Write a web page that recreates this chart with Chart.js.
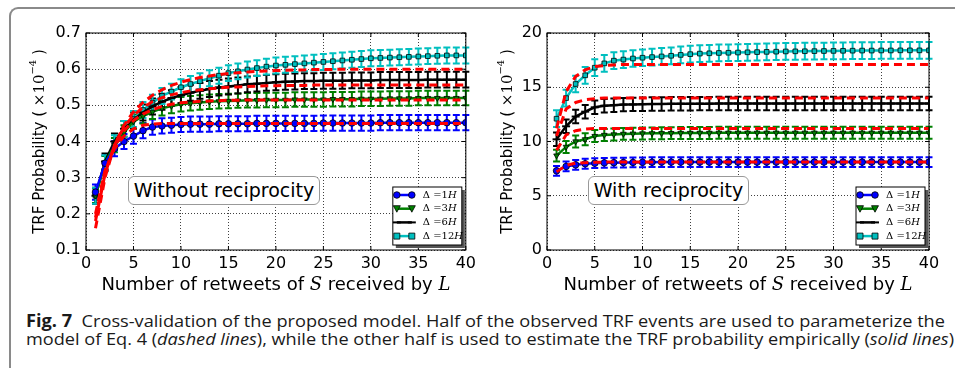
<!DOCTYPE html>
<html>
<head>
<meta charset="utf-8">
<script src="https://cdn.jsdelivr.net/npm/chart.js@4.4.1/dist/chart.umd.min.js"></script>
<style>
    body { margin: 0; width: 955px; height: 368px; overflow: hidden; background: #fff; position: relative; }
    #frame { position: absolute; left: 9px; top: 7px; width: 980px; height: 400px; border-top: 2px solid #8a8a8a; border-left: 2px solid #8a8a8a; border-top-left-radius: 9px; }
    .panel { position: absolute; top: 0; height: 300px; }
    #left { left: 0; width: 480px; }
    #right { left: 480px; width: 475px; }
    .tag { position: absolute; border: 1px solid #999; border-radius: 6px; background: #fff; font: 19px 'DejaVu Sans'; line-height: 27px; text-align: center; color: #000; white-space: nowrap; }
    .cap { position: absolute; left: 26px; font-family: 'Open Sans'; font-size: 17px; line-height: 18px; white-space: nowrap; transform-origin: 0 0; color: #1a1a1a; }
</style>
</head>
<body>
<div id="frame"></div>
<div class="panel" id="left"><canvas id="chartL" width="480" height="300"></canvas></div>
<div class="panel" id="right"><canvas id="chartR" width="475" height="300"></canvas></div>
<div class="tag" style="left:128px;top:176px;width:190px;height:27px;">Without reciprocity</div>
<div class="tag" style="left:588px;top:176px;width:159px;height:27px;">With reciprocity</div>
<div class="cap" id="cap1" data-w="919" style="top:312px;"><b>Fig. 7</b>&nbsp; Cross-validation of the proposed model. Half of the observed TRF events are used to parameterize the</div>
<div class="cap" id="cap2" data-w="928" style="top:330px;">model of Eq. 4 (<i>dashed lines</i>), while the other half is used to estimate the TRF probability empirically (<i>solid lines</i>)</div>
<script>
// retweet counts on the x axis
const xs = [1, 2, 3, 4, 5, 6, 7, 8, 9, 10, 11, 12, 13, 14, 15, 16, 17, 18, 19, 20,
    21, 22, 23, 24, 25, 26, 27, 28, 29, 30, 31, 32, 33, 34, 35, 36, 37, 38, 39, 40];

const labels = ['1', '3', '6', '12'];

// without reciprocity, empirical (x1e-4)
const blueL = [0.26, 0.34, 0.38, 0.40, 0.415, 0.43, 0.44, 0.443, 0.445, 0.447, 0.448, 0.448, 0.448, 0.449, 0.449, 0.449, 0.449, 0.45, 0.45, 0.45,
    0.45, 0.45, 0.45, 0.45, 0.451, 0.451, 0.451, 0.451, 0.451, 0.451, 0.452, 0.452, 0.452, 0.452, 0.452, 0.452, 0.452, 0.452, 0.452, 0.452];
const greenL = [0.25, 0.34, 0.39, 0.425, 0.455, 0.47, 0.482, 0.492, 0.498, 0.503, 0.506, 0.508, 0.51, 0.511, 0.512, 0.513, 0.514, 0.514, 0.515, 0.515,
    0.515, 0.516, 0.516, 0.516, 0.516, 0.517, 0.517, 0.517, 0.518, 0.518, 0.518, 0.519, 0.519, 0.519, 0.52, 0.52, 0.52, 0.52, 0.52, 0.52];
const blackL = [0.25, 0.345, 0.40, 0.435, 0.46, 0.48, 0.497, 0.51, 0.52, 0.528, 0.535, 0.54, 0.545, 0.549, 0.552, 0.555, 0.558, 0.56, 0.562, 0.564,
    0.565, 0.566, 0.567, 0.567, 0.568, 0.568, 0.568, 0.569, 0.569, 0.569, 0.57, 0.57, 0.57, 0.57, 0.57, 0.571, 0.571, 0.571, 0.571, 0.571];
const cyanL = [0.25, 0.34, 0.395, 0.435, 0.462, 0.487, 0.507, 0.526, 0.538, 0.55, 0.559, 0.567, 0.575, 0.582, 0.589, 0.594, 0.599, 0.603, 0.607, 0.61,
    0.612, 0.614, 0.616, 0.618, 0.62, 0.622, 0.624, 0.626, 0.628, 0.63, 0.631, 0.632, 0.633, 0.634, 0.635, 0.636, 0.637, 0.638, 0.638, 0.638];
// without reciprocity, model (dashed)
const mBlueL = [0.2, 0.32, 0.38, 0.415, 0.435, 0.445, 0.448, 0.45, 0.45, 0.45, 0.45, 0.45, 0.45, 0.45, 0.45, 0.45, 0.45, 0.45, 0.45, 0.45,
    0.45, 0.45, 0.45, 0.45, 0.45, 0.45, 0.45, 0.45, 0.45, 0.45, 0.45, 0.45, 0.45, 0.45, 0.45, 0.45, 0.45, 0.45, 0.45, 0.45];
const mGreenL = [0.19, 0.315, 0.385, 0.43, 0.458, 0.476, 0.488, 0.497, 0.503, 0.507, 0.509, 0.511, 0.512, 0.513, 0.514, 0.514, 0.515, 0.515, 0.515, 0.515,
    0.515, 0.515, 0.515, 0.515, 0.515, 0.515, 0.515, 0.515, 0.515, 0.515, 0.515, 0.515, 0.515, 0.515, 0.515, 0.515, 0.515, 0.515, 0.515, 0.515];
const mBlackL = [0.18, 0.31, 0.39, 0.44, 0.472, 0.494, 0.51, 0.521, 0.529, 0.535, 0.54, 0.543, 0.546, 0.548, 0.55, 0.551, 0.552, 0.553, 0.554, 0.554,
    0.555, 0.555, 0.555, 0.556, 0.556, 0.556, 0.556, 0.556, 0.556, 0.556, 0.556, 0.556, 0.556, 0.556, 0.556, 0.556, 0.556, 0.556, 0.556, 0.556];
const mCyanL = [0.16, 0.30, 0.39, 0.445, 0.482, 0.508, 0.528, 0.543, 0.555, 0.564, 0.571, 0.577, 0.581, 0.585, 0.588, 0.59, 0.592, 0.594, 0.595, 0.596,
    0.597, 0.598, 0.598, 0.599, 0.599, 0.599, 0.6, 0.6, 0.6, 0.6, 0.6, 0.6, 0.6, 0.6, 0.6, 0.6, 0.6, 0.6, 0.6, 0.6];
const errL = [0.021, 0.02, 0.022, 0.022];

// with reciprocity, empirical (x1e-4)
const blueR = [7.3, 7.7, 7.85, 7.95, 8.0, 8.03, 8.05, 8.06, 8.07, 8.08, 8.09, 8.1, 8.1, 8.1, 8.1, 8.1, 8.1, 8.1, 8.1, 8.1,
    8.1, 8.1, 8.1, 8.1, 8.1, 8.1, 8.1, 8.1, 8.1, 8.1, 8.1, 8.1, 8.1, 8.1, 8.1, 8.1, 8.1, 8.1, 8.1, 8.1];
const greenR = [8.7, 9.5, 10.0, 10.2, 10.5, 10.6, 10.65, 10.7, 10.72, 10.74, 10.75, 10.76, 10.77, 10.78, 10.78, 10.79, 10.79, 10.8, 10.8, 10.8,
    10.8, 10.8, 10.8, 10.8, 10.8, 10.8, 10.8, 10.8, 10.8, 10.8, 10.8, 10.8, 10.8, 10.8, 10.8, 10.8, 10.8, 10.8, 10.8, 10.8];
const blackR = [10.2, 11.4, 12.3, 12.75, 13.15, 13.3, 13.35, 13.4, 13.42, 13.44, 13.45, 13.46, 13.47, 13.48, 13.48, 13.49, 13.49, 13.5, 13.5, 13.5,
    13.5, 13.5, 13.5, 13.5, 13.5, 13.5, 13.5, 13.5, 13.5, 13.5, 13.5, 13.5, 13.5, 13.5, 13.5, 13.5, 13.5, 13.5, 13.5, 13.5];
const cyanR = [12.1, 14.0, 15.3, 16.1, 16.8, 17.2, 17.45, 17.55, 17.65, 17.72, 17.78, 17.84, 17.9, 17.98, 18.05, 18.1, 18.13, 18.16, 18.18, 18.2,
    18.22, 18.24, 18.26, 18.28, 18.3, 18.31, 18.32, 18.33, 18.34, 18.35, 18.36, 18.37, 18.38, 18.38, 18.39, 18.39, 18.4, 18.4, 18.4, 18.4];
// with reciprocity, model (dashed)
const mBlueR = [7.2, 7.8, 8.0, 8.05, 8.08, 8.1, 8.1, 8.1, 8.1, 8.1, 8.1, 8.1, 8.1, 8.1, 8.1, 8.1, 8.1, 8.1, 8.1, 8.1,
    8.1, 8.1, 8.1, 8.1, 8.1, 8.1, 8.1, 8.1, 8.1, 8.1, 8.1, 8.1, 8.1, 8.1, 8.1, 8.1, 8.1, 8.1, 8.1, 8.1];
const mGreenR = [9.2, 10.6, 11.0, 11.15, 11.2, 11.2, 11.2, 11.2, 11.2, 11.2, 11.2, 11.2, 11.2, 11.2, 11.2, 11.2, 11.2, 11.2, 11.2, 11.2,
    11.2, 11.2, 11.2, 11.2, 11.2, 11.2, 11.2, 11.2, 11.2, 11.2, 11.2, 11.2, 11.2, 11.2, 11.2, 11.2, 11.2, 11.2, 11.2, 11.2];
const mBlackR = [10.5, 13.0, 13.6, 13.85, 13.95, 14.0, 14.0, 14.0, 14.0, 14.0, 14.0, 14.0, 14.0, 14.0, 14.0, 14.0, 14.0, 14.0, 14.0, 14.0,
    14.0, 14.0, 14.0, 14.0, 14.0, 14.0, 14.0, 14.0, 14.0, 14.0, 14.0, 14.0, 14.0, 14.0, 14.0, 14.0, 14.0, 14.0, 14.0, 14.0];
const mCyanR = [11.2, 14.6, 16.0, 16.6, 16.9, 17.0, 17.05, 17.1, 17.1, 17.1, 17.1, 17.1, 17.1, 17.1, 17.1, 17.1, 17.1, 17.1, 17.1, 17.1,
    17.1, 17.1, 17.1, 17.1, 17.1, 17.1, 17.1, 17.1, 17.1, 17.1, 17.1, 17.1, 17.1, 17.1, 17.1, 17.1, 17.1, 17.1, 17.1, 17.1];
const errR = [0.45, 0.55, 0.62, 0.77];

const colors = ['#0000ff', '#008000', '#000000', '#00bfbf'];
const styles = ['circle', 'triangle', 'line', 'rect'];

function pts(vals) {
    return xs.map((x, i) => ({ x: x, y: vals[i] }));
}

function buildSets(solid, model, errs) {
    const sets = [];
    model.forEach((m) => {
        sets.push({
            data: pts(m), borderColor: '#ff0000', borderWidth: 3, borderDash: [8, 5],
            pointRadius: 0, tension: 0, order: 0, fill: false,
        });
    });
    solid.forEach((s, i) => {
        const isLine = styles[i] === 'line';
        sets.push({
            data: pts(s), borderColor: colors[i], borderWidth: 2.5, tension: 0, order: 1, fill: false,
            pointStyle: styles[i], rotation: styles[i] === 'triangle' ? 180 : 0,
            pointRadius: isLine ? 4 : 3.3,
            pointBackgroundColor: colors[i],
            pointBorderColor: '#000', pointBorderWidth: isLine ? 2 : 0.8,
            err: errs[i],
        });
    });
    return sets;
}

const errorBars = {
    id: 'errorBars',
    beforeDatasetsDraw(chart) {
        const { ctx, scales } = chart;
        ctx.save();
        chart.data.datasets.forEach((ds, i) => {
            if (!ds.err) return;
            const meta = chart.getDatasetMeta(i);
            ctx.strokeStyle = ds.borderColor;
            ctx.lineWidth = 2;
            meta.data.forEach((p, j) => {
                const v = ds.data[j].y;
                const y1 = scales.y.getPixelForValue(v - ds.err);
                const y2 = scales.y.getPixelForValue(v + ds.err);
                ctx.beginPath();
                ctx.moveTo(p.x, y1); ctx.lineTo(p.x, y2);
                ctx.moveTo(p.x - 3.5, y1); ctx.lineTo(p.x + 3.5, y1);
                ctx.moveTo(p.x - 3.5, y2); ctx.lineTo(p.x + 3.5, y2);
                ctx.stroke();
            });
        });
        ctx.restore();
    },
};

function drawMarker(ctx, style, x, y, color) {
    ctx.fillStyle = color;
    ctx.strokeStyle = '#000';
    ctx.lineWidth = 0.8;
    ctx.beginPath();
    if (style === 'circle') {
        ctx.arc(x, y, 3.3, 0, Math.PI * 2);
        ctx.fill(); ctx.stroke();
    } else if (style === 'triangle') {
        ctx.moveTo(x - 3.5, y - 3); ctx.lineTo(x + 3.5, y - 3); ctx.lineTo(x, y + 3.5); ctx.closePath();
        ctx.fill(); ctx.stroke();
    } else if (style === 'rect') {
        ctx.rect(x - 3, y - 3, 6, 6);
        ctx.fill(); ctx.stroke();
    } else {
        ctx.lineWidth = 2;
        ctx.moveTo(x - 4, y); ctx.lineTo(x + 4, y);
        ctx.stroke();
    }
}

const frameAndText = {
    id: 'frameAndText',
    afterDraw(chart, args, opts) {
        const { ctx, chartArea: a, scales } = chart;
        ctx.save();
        // axes box and inward ticks
        ctx.strokeStyle = '#000';
        ctx.lineWidth = 1;
        ctx.strokeRect(a.left, a.top, a.right - a.left, a.bottom - a.top);
        ctx.beginPath();
        scales.x.ticks.forEach((t) => {
            const px = scales.x.getPixelForValue(t.value);
            ctx.moveTo(px, a.bottom); ctx.lineTo(px, a.bottom - 4);
            ctx.moveTo(px, a.top); ctx.lineTo(px, a.top + 4);
        });
        scales.y.ticks.forEach((t) => {
            const py = scales.y.getPixelForValue(t.value);
            ctx.moveTo(a.left, py); ctx.lineTo(a.left + 4, py);
            ctx.moveTo(a.right, py); ctx.lineTo(a.right - 4, py);
        });
        ctx.stroke();

        // legend
        const lx = a.right - 73, ly = a.bottom - 63, lw = 69, lh = 58;
        ctx.fillStyle = '#555';
        ctx.fillRect(lx + 3, ly + 3, lw, lh);
        ctx.fillStyle = '#fff';
        ctx.fillRect(lx, ly, lw, lh);
        ctx.strokeStyle = '#000';
        ctx.strokeRect(lx, ly, lw, lh);
        labels.forEach((lab, i) => {
            const yy = ly + 8 + i * 13.7;
            ctx.strokeStyle = colors[i];
            ctx.lineWidth = 2.5;
            ctx.beginPath();
            ctx.moveTo(lx + 4, yy); ctx.lineTo(lx + 19, yy);
            ctx.stroke();
            drawMarker(ctx, styles[i], lx + 4, yy, colors[i]);
            drawMarker(ctx, styles[i], lx + 19, yy, colors[i]);
            ctx.fillStyle = '#000';
            ctx.textBaseline = 'middle';
            ctx.textAlign = 'left';
            ctx.font = '10px "DejaVu Serif"';
            let tx = lx + 30;
            const s1 = '\u0394 =' + lab;
            ctx.fillText(s1, tx, yy);
            tx += ctx.measureText(s1).width;
            ctx.font = 'italic 10px "DejaVu Serif"';
            ctx.fillText('H', tx, yy);
        });

        // x title with math italic S and L
        const parts = [['Number of retweets of ', 'sans'], ['S', 'it'], [' received by ', 'sans'], ['L', 'it']];
        const fontOf = (k) => (k === 'it' ? 'italic 18px "DejaVu Serif"' : '18px "DejaVu Sans"');
        let total = 0;
        parts.forEach((p) => { ctx.font = fontOf(p[1]); total += ctx.measureText(p[0]).width; });
        let x0 = (a.left + a.right) / 2 - total / 2;
        ctx.fillStyle = '#000';
        ctx.textBaseline = 'alphabetic';
        ctx.textAlign = 'left';
        parts.forEach((p) => {
            ctx.font = fontOf(p[1]);
            ctx.fillText(p[0], x0, 290);
            x0 += ctx.measureText(p[0]).width;
        });

        // y title, rotated
        ctx.save();
        ctx.translate(opts.titleX, (a.top + a.bottom) / 2);
        ctx.rotate(-Math.PI / 2);
        const yparts = [['TRF Probability ( ', '15px "DejaVu Sans"', 0], ['\u00d710', '15px "DejaVu Serif"', 0],
            ['\u22124', '10px "DejaVu Serif"', -7], [' )', '15px "DejaVu Sans"', 0]];
        let yt = 0;
        yparts.forEach((p) => { ctx.font = p[1]; yt += ctx.measureText(p[0]).width; });
        let y0 = -yt / 2;
        ctx.textBaseline = 'middle';
        yparts.forEach((p) => {
            ctx.font = p[1];
            ctx.fillText(p[0], y0, p[2]);
            y0 += ctx.measureText(p[0]).width;
        });
        ctx.restore();
        ctx.restore();
    },
};

function makeChart(id, solid, model, errs, yMin, yMax, yStep, yWidth, padRight, titleX, decimals) {
    return new Chart(document.getElementById(id), {
        type: 'line',
        data: { datasets: buildSets(solid, model, errs) },
        plugins: [errorBars, frameAndText],
        options: {
            responsive: false,
            animation: false,
            layout: { padding: { top: 33, right: padRight, left: 0, bottom: 0 } },
            plugins: { legend: { display: false }, tooltip: { enabled: false }, frameAndText: { titleX: titleX } },
            scales: {
                x: {
                    type: 'linear', min: 0, max: 40,
                    ticks: { stepSize: 5, color: '#000', font: { family: 'DejaVu Sans', size: 16 }, padding: 4, maxRotation: 0 },
                    grid: { color: 'rgba(0,0,0,0.75)', lineWidth: 1, drawTicks: false },
                    border: { display: false, dash: [1, 2] },
                    afterFit(scale) { scale.height = 50; },
                },
                y: {
                    min: yMin, max: yMax,
                    ticks: {
                        stepSize: yStep, color: '#000', font: { family: 'DejaVu Sans', size: 16 }, padding: 5,
                        callback: (v) => v.toFixed(decimals),
                    },
                    grid: { color: 'rgba(0,0,0,0.75)', lineWidth: 1, drawTicks: false },
                    border: { display: false, dash: [1, 2] },
                    afterFit(scale) { scale.width = yWidth; },
                },
            },
        },
    });
}

makeChart('chartL', [blueL, greenL, blackL, cyanL], [mBlueL, mGreenL, mBlackL, mCyanL], errL, 0.1, 0.7, 0.1, 86, 11, 40, 1);
makeChart('chartR', [blueR, greenR, blackR, cyanR], [mBlueR, mGreenR, mBlackR, mCyanR], errR, 0, 20, 5, 67, 26, 28, 0);

// squeeze the caption lines to the printed width
document.querySelectorAll('.cap').forEach((el) => {
    const w = el.getBoundingClientRect().width;
    el.style.transform = `scaleX(${el.dataset.w / w})`;
});
</script>
</body>
</html>
